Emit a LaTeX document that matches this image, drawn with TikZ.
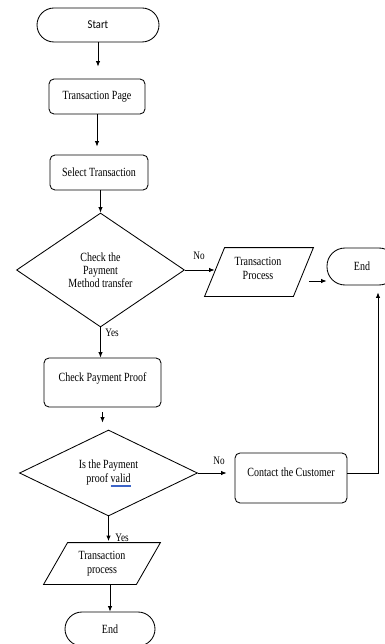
\documentclass[tikz,border=0pt]{standalone}
\usepackage{fontspec}
\setmainfont{Liberation Serif}[FakeStretch=0.8]
\newfontfamily\startfont{Carlito}[FakeStretch=0.88]
\usetikzlibrary{shapes.geometric,arrows.meta,calc}
\definecolor{markblue}{RGB}{60,100,200}
% blue double underline under a word (spell-check mark)
\newcommand{\spellmark}[1]{\leavevmode\setbox0\hbox{#1}%
  \rlap{\color{markblue}\raisebox{-2.4pt}{\rule{\wd0}{0.5pt}}}%
  \rlap{\color{markblue}\raisebox{-3.6pt}{\rule{\wd0}{0.5pt}}}\box0}

\begin{document}
\begin{tikzpicture}[x=1pt,y=-1pt,line width=0.85pt,
  every node/.style={font=\fontsize{12.5}{14.5}\selectfont, inner sep=0pt, align=center},
  procbox/.style={draw, rounded corners=5pt},
  termbox/.style={draw, rounded corners=17pt},
  decision/.style={draw, diamond, inner sep=0pt},
  lbl/.style={font=\fontsize{11.5}{13}\selectfont, anchor=west},
  arr/.style={-{Latex[length=5.5pt,width=4.5pt]}}
]
\useasboundingbox (0,0) rectangle (384,644);
\fill[white] (0,0) rectangle (384,644);

% main column
\node[termbox, minimum width=122pt, minimum height=34pt,
      font=\startfont\fontsize{12}{14}\selectfont] (start) at (98,25) {Start};
\node[procbox, minimum width=96pt, minimum height=35pt] (page) at (97,96.5) {Transaction Page};
\node[procbox, minimum width=98pt, minimum height=35pt] (select) at (99,172.5) {Select Transaction};
\node[decision, aspect=1.5, minimum width=168pt, minimum height=114pt,
      font=\fontsize{12.5}{13}\selectfont] (method) at (100.5,270) {Check the\\Payment\\Method transfer};
\node[procbox, minimum width=117pt, minimum height=49pt, text height=9pt, text depth=12pt]
      (proof) at (102.5,382.5) {Check Payment Proof};
\node[decision, aspect=2, minimum width=178pt, minimum height=86pt] (valid) at (108.5,473)
      {Is the Payment\\proof \spellmark{valid}};
\node[minimum width=92pt, minimum height=41pt] (txn2) at (102,563.5) {Transaction\\process};
\draw ([xshift=-12pt]txn2.south west) -- ([xshift=12pt]txn2.north west)
   -- ([xshift=12pt]txn2.north east) -- ([xshift=-12pt]txn2.south east) -- cycle;
\node[termbox, minimum width=90pt, minimum height=34pt] (endb) at (110,629) {End};

% right branch
\node[minimum width=88pt, minimum height=48pt] (txn1) at (259,272) {};
\draw ([xshift=-10pt]txn1.south west) -- ([xshift=10pt]txn1.north west)
   -- ([xshift=10pt]txn1.north east) -- ([xshift=-10pt]txn1.south east) -- cycle;
\node (txn1text) at (258,268.5) {Transaction\\Process};
\node[draw, rounded corners=18pt, minimum width=70pt, minimum height=37pt] (endr) at (362,266.5) {End};
\node[procbox, minimum width=112pt, minimum height=50pt, text height=9pt, text depth=12pt]
      (contact) at (291,478) {Contact the Customer};

% labels
\node[lbl] (no1) at (193,256) {No};
\node[lbl] (yes1) at (105,333) {Yes};
\node[lbl] (no2) at (213,461) {No};
\node[lbl] (yes2) at (115,538) {Yes};

% connectors
\draw[arr, shorten >=12pt] (start.south) -- (start.south |- page.north);
\draw[arr, shorten >=8pt] (page.south) -- (page.south |- select.north);
\draw[arr] (select.south -| method.north) -- (method.north);
\draw[arr] (method.east) -- (method.east -| txn1.west);
\draw[arr] ([xshift=6pt,yshift=-9pt]txn1.east) coordinate (tp1out) -- (tp1out -| endr.west);
\draw[arr] (method.south) -- (method.south |- proof.north);
\draw[arr, shorten <=5pt, shorten >=7pt] (proof.south) -- (proof.south |- valid.north);
\draw[arr, shorten >=8pt] (valid.east) -- (valid.east -| contact.west);
\draw[arr] ([yshift=5pt]contact.east) -| ([xshift=16pt,yshift=-7pt]endr.south);
\draw[arr, shorten >=1.5pt] (valid.south) -- (valid.south |- txn2.north);
\draw[arr] (endb.north |- txn2.south) -- (endb.north);
\end{tikzpicture}
\end{document}
